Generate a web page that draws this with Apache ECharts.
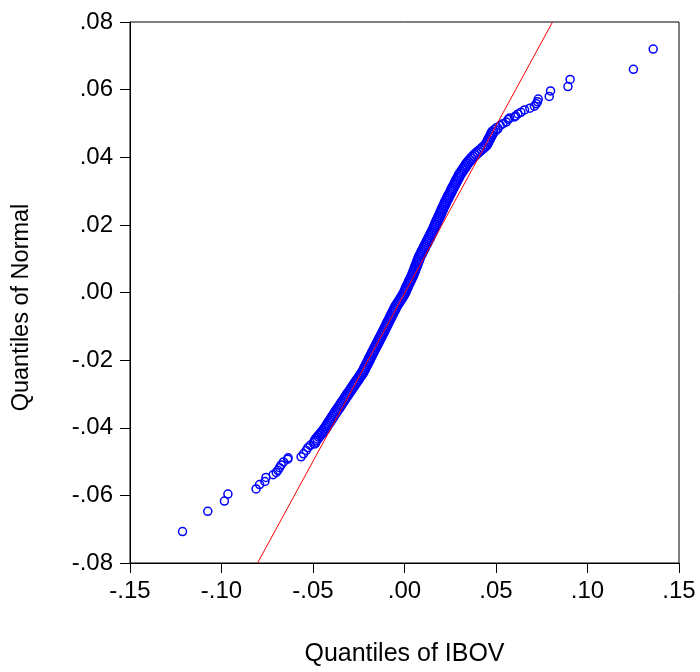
<!DOCTYPE html>
<html><head><meta charset="utf-8">
<script src="https://cdn.jsdelivr.net/npm/echarts@6/dist/echarts.min.js"></script>
<style>html,body{margin:0;padding:0;background:#fff}#c{width:700px;height:672px}</style>
</head><body><div id="c"></div><script>
// [IBOV quantile, Normal quantile] pairs
const lowerTail = [
  [-0.1213,-0.0707],[-0.1075,-0.0647],[-0.0984,-0.0617],[-0.0965,-0.0596],
  [-0.0811,-0.0581],[-0.0792,-0.0568],[-0.0763,-0.0559],[-0.0757,-0.0547],
  [-0.0718,-0.0539],[-0.0701,-0.0532],[-0.0692,-0.0526],[-0.0683,-0.0518],
  [-0.0674,-0.0510],[-0.0661,-0.0501],[-0.0638,-0.0493],[-0.0636,-0.0489],
  [-0.0565,-0.0486],[-0.0552,-0.0477],[-0.0537,-0.0467],[-0.0528,-0.0459],
  [-0.0515,-0.0452]
];
const body = [
  [-0.0492,-0.0445],[-0.0488,-0.0440],[-0.0483,-0.0435],[-0.0475,-0.0430],[-0.0468,-0.0425],
  [-0.0460,-0.0420],[-0.0452,-0.0415],[-0.0445,-0.0410],[-0.0437,-0.0405],[-0.0431,-0.0400],
  [-0.0425,-0.0395],[-0.0419,-0.0390],[-0.0413,-0.0385],[-0.0407,-0.0380],[-0.0401,-0.0375],
  [-0.0395,-0.0370],[-0.0389,-0.0365],[-0.0383,-0.0360],[-0.0377,-0.0355],[-0.0371,-0.0350],
  [-0.0364,-0.0345],[-0.0358,-0.0340],[-0.0352,-0.0335],[-0.0346,-0.0330],[-0.0340,-0.0325],
  [-0.0333,-0.0320],[-0.0327,-0.0315],[-0.0321,-0.0310],[-0.0315,-0.0305],[-0.0309,-0.0300],
  [-0.0302,-0.0295],[-0.0296,-0.0290],[-0.0290,-0.0285],[-0.0283,-0.0280],[-0.0277,-0.0275],
  [-0.0271,-0.0270],[-0.0265,-0.0265],[-0.0258,-0.0260],[-0.0252,-0.0255],[-0.0246,-0.0250],
  [-0.0239,-0.0245],[-0.0233,-0.0240],[-0.0227,-0.0235],[-0.0222,-0.0230],[-0.0218,-0.0225],
  [-0.0213,-0.0220],[-0.0208,-0.0215],[-0.0204,-0.0210],[-0.0199,-0.0205],[-0.0194,-0.0200],
  [-0.0190,-0.0195],[-0.0185,-0.0190],[-0.0180,-0.0185],[-0.0176,-0.0180],[-0.0171,-0.0175],
  [-0.0166,-0.0170],[-0.0162,-0.0165],[-0.0157,-0.0160],[-0.0152,-0.0155],[-0.0147,-0.0150],
  [-0.0143,-0.0145],[-0.0138,-0.0140],[-0.0133,-0.0135],[-0.0128,-0.0130],[-0.0124,-0.0125],
  [-0.0119,-0.0120],[-0.0114,-0.0115],[-0.0110,-0.0110],[-0.0105,-0.0105],[-0.0100,-0.0100],
  [-0.0096,-0.0095],[-0.0091,-0.0090],[-0.0087,-0.0085],[-0.0082,-0.0080],[-0.0077,-0.0075],
  [-0.0073,-0.0070],[-0.0068,-0.0065],[-0.0064,-0.0060],[-0.0059,-0.0055],[-0.0054,-0.0050],
  [-0.0050,-0.0045],[-0.0045,-0.0040],[-0.0039,-0.0035],[-0.0033,-0.0030],[-0.0027,-0.0025],
  [-0.0021,-0.0020],[-0.0015,-0.0015],[-0.0009,-0.0010],[-0.0004,-0.0005],[0.0001,0.0000],
  [0.0005,0.0005],[0.0009,0.0010],[0.0013,0.0015],[0.0017,0.0020],[0.0022,0.0025],
  [0.0026,0.0030],[0.0030,0.0035],[0.0035,0.0040],[0.0039,0.0045],[0.0044,0.0050],
  [0.0047,0.0055],[0.0051,0.0060],[0.0054,0.0065],[0.0058,0.0070],[0.0061,0.0075],
  [0.0065,0.0080],[0.0068,0.0085],[0.0072,0.0090],[0.0075,0.0095],[0.0079,0.0100],
  [0.0082,0.0105],[0.0087,0.0110],[0.0092,0.0115],[0.0096,0.0120],[0.0101,0.0125],
  [0.0106,0.0130],[0.0110,0.0135],[0.0115,0.0140],[0.0120,0.0145],[0.0124,0.0150],
  [0.0129,0.0155],[0.0134,0.0160],[0.0138,0.0165],[0.0143,0.0170],[0.0148,0.0175],
  [0.0152,0.0180],[0.0157,0.0185],[0.0161,0.0190],[0.0165,0.0195],[0.0169,0.0200],
  [0.0173,0.0205],[0.0177,0.0210],[0.0181,0.0215],[0.0186,0.0220],[0.0190,0.0225],
  [0.0194,0.0230],[0.0198,0.0235],[0.0202,0.0240],[0.0206,0.0245],[0.0210,0.0250],
  [0.0215,0.0255],[0.0219,0.0260],[0.0223,0.0265],[0.0227,0.0270],[0.0232,0.0275],
  [0.0237,0.0280],[0.0241,0.0285],[0.0246,0.0290],[0.0251,0.0295],[0.0256,0.0300],
  [0.0260,0.0305],[0.0265,0.0310],[0.0270,0.0315],[0.0275,0.0320],[0.0279,0.0325],
  [0.0284,0.0330],[0.0289,0.0335],[0.0294,0.0340],[0.0298,0.0345],[0.0304,0.0350],
  [0.0310,0.0355],[0.0316,0.0360],[0.0322,0.0365],[0.0329,0.0370],[0.0335,0.0375],
  [0.0340,0.0380],[0.0348,0.0385],[0.0356,0.0390],[0.0364,0.0395],[0.0372,0.0400],
  [0.0381,0.0405],[0.0391,0.0410],[0.0402,0.0415],[0.0412,0.0420],[0.0423,0.0425],
  [0.0433,0.0430],[0.0444,0.0435],[0.0450,0.0440],[0.0455,0.0445],[0.0459,0.0450],
  [0.0464,0.0455],[0.0469,0.0460],[0.0474,0.0465],[0.0478,0.0470],[0.0483,0.0475],
  [0.0494,0.0480],[0.0505,0.0485]
];
const upperTail = [
  [0.0523,0.0494],[0.0537,0.0499],[0.0556,0.0504],[0.0567,0.0512],[0.0574,0.0516],
  [0.0601,0.0519],[0.0607,0.0522],[0.0620,0.0528],[0.0636,0.0533],[0.0656,0.0540],
  [0.0685,0.0545],[0.0710,0.0551],[0.0720,0.0558],[0.0727,0.0564],[0.0731,0.0572],
  [0.0791,0.0580],[0.0798,0.0596],[0.0893,0.0609],[0.0905,0.0630],[0.1251,0.0660],
  [0.1359,0.0720]
];
const refLineX = [-0.0803, 0.0809];
const refLineY = [-0.08, 0.08];

const FONT = 'Liberation Sans';
function fmt(v){ let s = Math.abs(v) < 1e-9 ? '0.00' : v.toFixed(2); return s.replace('0.', '.'); }

const chart = echarts.init(document.getElementById('c'), null, {renderer:'canvas'});
const markerStyle = {color:'rgba(0,0,0,0)', borderColor:'#0000ff', borderWidth:1.5, opacity:1};
chart.setOption({
  animation: false,
  backgroundColor: '#fff',
  grid: {left:130, right:21, top:22, bottom:102, show:true, borderColor:'#000', borderWidth:1, backgroundColor:'rgba(0,0,0,0)'},
  xAxis: {
    type:'value', min:-0.15, max:0.15, interval:0.05,
    axisLine:{show:true, onZero:false, lineStyle:{color:'#000', width:1}},
    axisTick:{show:true, inside:false, length:10, lineStyle:{color:'#000', width:1}},
    axisLabel:{formatter:fmt, color:'#000', fontSize:24, fontFamily:FONT, margin:16},
    splitLine:{show:false},
    name:'Quantiles of IBOV', nameLocation:'middle', nameGap:79,
    nameTextStyle:{color:'#000', fontSize:25, fontFamily:FONT}
  },
  yAxis: {
    type:'value', min:-0.08, max:0.08, interval:0.02,
    axisLine:{show:true, onZero:false, lineStyle:{color:'#000', width:1}},
    axisTick:{show:true, inside:false, length:10, lineStyle:{color:'#000', width:1}},
    axisLabel:{formatter:fmt, color:'#000', fontSize:24, fontFamily:FONT, margin:17},
    splitLine:{show:false},
    name:'Quantiles of Normal', nameLocation:'middle', nameGap:96,
    nameTextStyle:{color:'#000', fontSize:23.5, fontFamily:FONT, padding:[0,30,0,0]}
  },
  series: [
    {
      type:'scatter', data: lowerTail.concat(upperTail),
      symbol:'circle', symbolSize:8,
      itemStyle:markerStyle, silent:true, z:2
    },
    {
      type:'scatter', data: body,
      symbol:'circle', symbolSize:10,
      itemStyle:markerStyle, silent:true, z:2
    },
    {
      type:'line', data: refLineX.map((x,i)=>[x, refLineY[i]]),
      symbol:'none', lineStyle:{color:'#ff0000', width:1}, silent:true, z:3
    }
  ]
});
</script></body></html>
